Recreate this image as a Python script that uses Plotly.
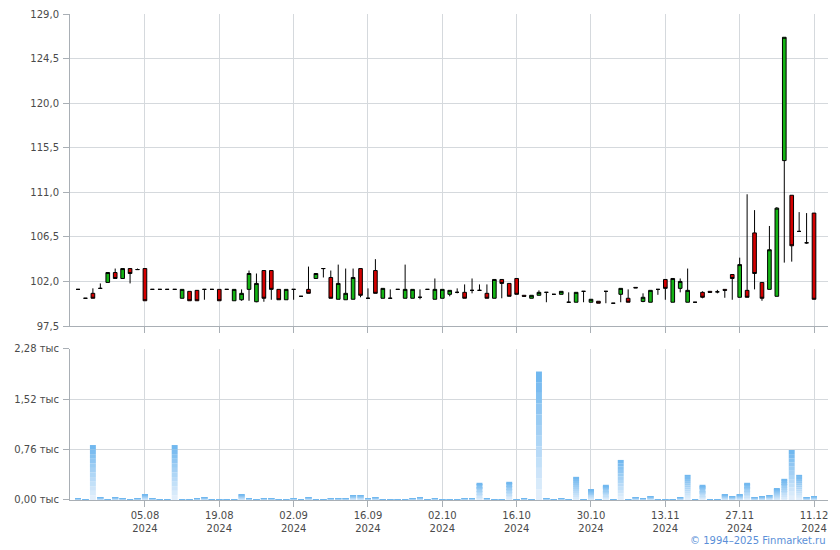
import pandas as pd
import plotly.graph_objects as go

# ---- trading days (category x axis) ----
_days = pd.bdate_range("2024-07-23", "2024-12-11")
_skip = {"2024-09-23", "2024-09-24", "2024-11-04"}
_extra = ["2024-11-02"]
dates = sorted([d.strftime("%Y-%m-%d") for d in _days if d.strftime("%Y-%m-%d") not in _skip] + _extra)

open_ = [101.2, 100.3, 100.8, 101.3, 101.9, 102.9, 102.3, 103.3, 103.2, 103.3,
         101.2, 101.2, 101.2, 101.2, 100.3, 101.0, 101.1, 101.2, 101.2, 101.2,
         101.2, 100.05, 100.15, 101.2, 99.95, 103.1, 103.1, 101.2, 100.15, 101.2,
         100.5, 101.2, 102.3, 103.3, 102.4, 100.2, 100.15, 100.2, 103.3, 100.3,
         103.1, 100.3, 100.3, 101.2, 100.3, 100.3, 100.4, 101.2, 100.2, 100.3,
         100.7, 100.9, 100.9, 101.1, 101.1, 100.8, 100.3, 102.2, 101.8, 102.3,
         100.6, 100.3, 100.6, 100.9, 100.7, 100.7, 99.9, 99.9, 101.0, 99.9,
         100.0, 101.0, 99.8, 100.7, 100.3, 101.4, 99.98, 99.9, 101.2, 102.2,
         99.9, 101.3, 99.9, 99.9, 100.9, 101.0, 100.95, 101.2, 102.7, 100.4,
         101.1, 106.9, 101.9, 101.2, 100.5, 114.2, 110.7, 107.05, 105.9, 108.9]
high = [101.2, 100.3, 101.3, 101.8, 102.9, 103.3, 103.3, 103.3, 103.3, 103.3,
        101.2, 101.2, 101.2, 101.2, 101.2, 101.0, 101.1, 101.2, 101.2, 101.2,
        101.2, 101.2, 101.2, 103.1, 102.8, 103.1, 103.1, 101.2, 101.2, 101.2,
        100.5, 103.5, 102.8, 103.3, 103.1, 103.7, 103.3, 103.3, 103.3, 101.3,
        104.25, 101.3, 101.2, 101.2, 103.7, 101.2, 101.2, 101.2, 102.3, 101.2,
        101.1, 101.3, 101.7, 102.3, 101.7, 101.7, 102.2, 102.2, 101.8, 102.3,
        100.6, 100.6, 101.1, 100.9, 100.7, 101.0, 100.9, 100.9, 101.0, 100.2,
        100.0, 101.0, 99.8, 101.3, 101.2, 101.4, 100.8, 101.1, 101.2, 102.2,
        102.3, 102.3, 103.3, 99.9, 101.0, 101.0, 101.15, 101.2, 102.7, 104.4,
        110.8, 109.2, 101.9, 107.6, 109.5, 126.65, 110.7, 109.0, 108.9, 108.9]
low = [101.2, 100.3, 100.3, 101.3, 101.9, 102.3, 102.3, 101.8, 103.2, 100.05,
       101.2, 101.2, 101.2, 101.2, 100.3, 100.05, 100.05, 100.15, 101.2, 100.05,
       101.2, 100.05, 100.05, 100.05, 99.9, 99.95, 100.15, 100.15, 100.15, 100.15,
       100.5, 100.8, 102.3, 102.4, 100.3, 100.2, 100.15, 100.2, 100.4, 100.3,
       100.8, 100.3, 100.3, 101.2, 100.3, 100.3, 100.2, 101.2, 100.2, 100.3,
       100.5, 100.8, 100.3, 100.8, 101.1, 100.3, 100.3, 100.3, 100.5, 100.7,
       100.5, 100.3, 100.6, 99.9, 100.7, 100.7, 99.9, 99.9, 99.9, 99.9,
       99.8, 99.8, 99.8, 99.9, 99.9, 101.35, 99.9, 99.9, 100.65, 100.15,
       99.9, 100.9, 99.9, 99.9, 100.3, 100.9, 100.8, 100.35, 100.15, 100.4,
       100.4, 101.2, 100.05, 101.2, 100.5, 103.9, 104.0, 107.05, 105.8, 100.2]
close = [101.2, 100.3, 100.3, 101.3, 102.9, 102.3, 103.3, 102.8, 103.2, 100.05,
         101.2, 101.2, 101.2, 101.2, 101.2, 100.05, 100.05, 101.2, 101.2, 100.05,
         101.2, 101.2, 100.8, 102.8, 101.8, 100.3, 101.2, 100.15, 101.2, 101.2,
         100.5, 100.8, 102.8, 103.3, 100.3, 101.8, 100.8, 102.4, 100.6, 100.3,
         100.8, 101.3, 100.3, 101.2, 101.2, 101.2, 100.4, 101.2, 101.2, 101.2,
         101.1, 100.9, 100.3, 101.1, 101.1, 100.3, 102.2, 101.8, 100.5, 100.7,
         100.5, 100.6, 100.9, 100.9, 100.7, 101.0, 99.9, 100.9, 101.0, 100.2,
         99.8, 101.0, 99.8, 101.3, 99.9, 101.35, 100.4, 101.1, 101.2, 101.3,
         102.3, 102.0, 101.1, 99.9, 100.4, 100.9, 100.95, 101.1, 102.3, 103.7,
         100.4, 102.8, 100.3, 105.2, 109.4, 126.65, 105.6, 107.05, 105.9, 100.2]
volume = [30, 15, 830, 45, 15, 45, 30, 15, 30, 90,
          30, 15, 15, 830, 15, 15, 30, 45, 15, 15,
          15, 15, 90, 30, 15, 30, 30, 15, 15, 30,
          15, 45, 15, 15, 30, 30, 30, 75, 75, 30,
          45, 15, 15, 15, 15, 30, 45, 15, 30, 15,
          15, 15, 30, 30, 260, 30, 15, 15, 275, 15,
          30, 15, 1940, 30, 15, 30, 15, 350, 15, 155,
          15, 230, 15, 605, 15, 45, 30, 60, 15, 15,
          15, 45, 380, 15, 230, 15, 15, 90, 60, 90,
          260, 45, 60, 75, 180, 320, 755, 380, 45, 60]

price_ticks = [97.5, 102.0, 106.5, 111.0, 115.5, 120.0, 124.5, 129.0]
price_labels = ["97,5", "102,0", "106,5", "111,0", "115,5", "120,0", "124,5", "129,0"]
vol_ticks = [0, 760, 1520, 2280]
vol_labels = ["0,00 тыс", "0,76 тыс", "1,52 тыс", "2,28 тыс"]

tick_dates = dates[9::10]
tick_text = [pd.Timestamp(d).strftime("%d.%m") + "<br>" + pd.Timestamp(d).strftime("%Y") for d in tick_dates]

GRID = "#d5d9dd"
AXIS = "#a9afb5"
FONT = dict(family="DejaVu Sans, Verdana, sans-serif", size=10, color="#4a4a4a")

fig = go.Figure()

fig.add_trace(go.Candlestick(
    x=dates, open=open_, high=high, low=low, close=close,
    increasing=dict(line=dict(color="#000000", width=1), fillcolor="#14b414"),
    decreasing=dict(line=dict(color="#000000", width=1), fillcolor="#d40000"),
    whiskerwidth=0, xaxis="x", yaxis="y", hoverinfo="x+y", showlegend=False,
))

# volume bars with a vertical gradient built from stacked slices of each bar
N = 12
top_c = (108, 181, 238)
bot_c = (230, 241, 252)
for k in range(N):
    f0, f1 = k / N, (k + 1) / N
    t = (k + 0.5) / N
    col = "rgb({},{},{})".format(*[round(b + (a - b) * t) for a, b in zip(top_c, bot_c)])
    fig.add_trace(go.Bar(
        x=dates, y=[v * (f1 - f0) for v in volume], base=[v * f0 for v in volume],
        marker=dict(color=col, line=dict(width=0)), xaxis="x2", yaxis="y2",
        showlegend=False, hoverinfo="skip",
    ))

xrange = [-1.08, len(dates) - 1 + 1.88]
common_x = dict(type="category", range=xrange, tickvals=tick_dates, showgrid=True, gridcolor=GRID,
                gridwidth=1, showline=True, linecolor=AXIS, linewidth=1, ticks="outside",
                ticklen=6, tickcolor=AXIS, zeroline=False, fixedrange=True, automargin=False)

common_y = dict(showgrid=True, gridcolor=GRID, showline=True, linecolor=AXIS, ticks="outside",
                ticklen=6, tickcolor=AXIS, zeroline=False, automargin=False, ticklabelstandoff=2)

# the page body adds an 8px offset, so the figure is sized 8px smaller on each axis
fig.update_layout(
    width=832, height=542,
    margin=dict(l=62, r=12, t=6, b=50, autoexpand=False),
    paper_bgcolor="white", plot_bgcolor="white",
    font=FONT,
    barmode="overlay", bargap=0.2,
    xaxis=dict(**common_x, showticklabels=False, anchor="y", rangeslider=dict(visible=False)),
    xaxis2=dict(**common_x, ticktext=tick_text, showticklabels=True, anchor="y2", matches="x"),
    yaxis=dict(**common_y, domain=[0.358, 1.0], range=[97.5, 129.0], tickvals=price_ticks,
               ticktext=price_labels, anchor="x"),
    yaxis2=dict(**common_y, domain=[0.0, 0.3107], range=[0, 2280], tickvals=vol_ticks,
                ticktext=vol_labels, anchor="x2"),
    annotations=[dict(text="© 1994–2025 Finmarket.ru", xref="paper", yref="paper", x=1.0, y=-0.084,
                      xanchor="right", yanchor="middle", showarrow=False,
                      font=dict(family="DejaVu Sans, Verdana, sans-serif", size=10, color="#5a8fd8"))],
)

fig.write_html("out.html")
